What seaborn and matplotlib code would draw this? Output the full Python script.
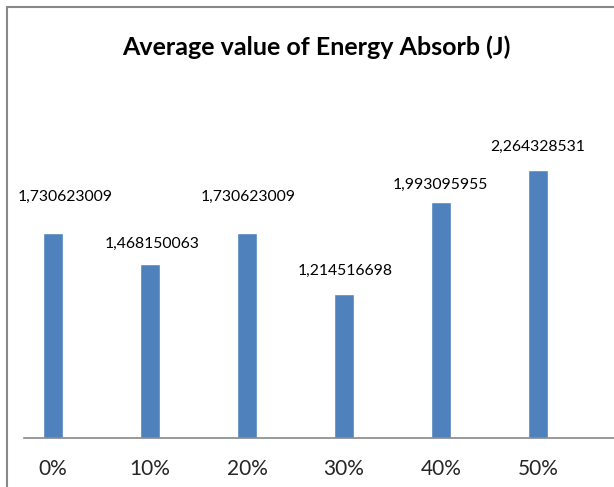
import matplotlib
matplotlib.use("Agg")
import matplotlib.pyplot as plt
import seaborn as sns
import pandas as pd
from matplotlib.patches import Rectangle

categories = ["0%", "10%", "20%", "30%", "40%", "50%"]
values = [1.730623009, 1.468150063, 1.730623009, 1.214516698, 1.993095955, 2.264328531]
value_labels = ["1,730623009", "1,468150063", "1,730623009", "1,214516698", "1,993095955", "2,264328531"]
title = "Average value of Energy Absorb (J)"

# layout: label offsets in pixels (dx, dy above bar top)
label_dx = [12, 2, 1, 1, -1, 0]
label_dy = [36, 20, 36, 23, 17, 23]

sns.set_theme(style="white")
plt.rcParams['font.family'] = ['Lato', 'DejaVu Sans']

W, H = 614, 487
fig = plt.figure(figsize=(W / 100, H / 100), dpi=100)
fig.patch.set_facecolor("white")

# axes: left px 24 .. right 614, top 142 .. bottom 438
left, right, top, bottom = 24, 614, 142, 438
ax = fig.add_axes([left / W, 1 - bottom / H, (right - left) / W, (bottom - top) / H])

df = pd.DataFrame({"cat": categories, "val": values})
sns.barplot(data=df, x="cat", y="val", color="#4F81BD", saturation=1, width=0.2, ax=ax)

px_per_unit_x = 97.0
ax.set_xlim((left - 53) / px_per_unit_x, (right - 53) / px_per_unit_x)
ax.set_ylim(0, 2.5)

for i, (v, lab) in enumerate(zip(values, value_labels)):
    ax.annotate(lab, xy=(i, v), xytext=(label_dx[i] * 0.72, label_dy[i] * 0.72),
                textcoords="offset points", ha="center", va="center",
                fontsize=11.3, color="#000000")

for s in ["top", "right", "left"]:
    ax.spines[s].set_visible(False)
ax.spines["bottom"].set_color("#888888")
ax.spines["bottom"].set_linewidth(1.2)
ax.set_yticks([])
ax.set_xlabel("")
ax.set_ylabel("")
ax.tick_params(axis="x", length=0, pad=15, labelsize=15)
ax.set_facecolor("white")

fig.text(316 / W, 1 - 47 / H, title, ha="center", va="center", fontsize=18, fontweight="bold", color="#000000")

# chart border (partially cropped)
fig.patches.append(Rectangle((7 / W, -0.1), 1.2, 1 - 7 / H + 0.1, transform=fig.transFigure,
                             fill=False, edgecolor="#888888", linewidth=1.5))

fig.savefig("out.png", dpi=100, facecolor="white")
